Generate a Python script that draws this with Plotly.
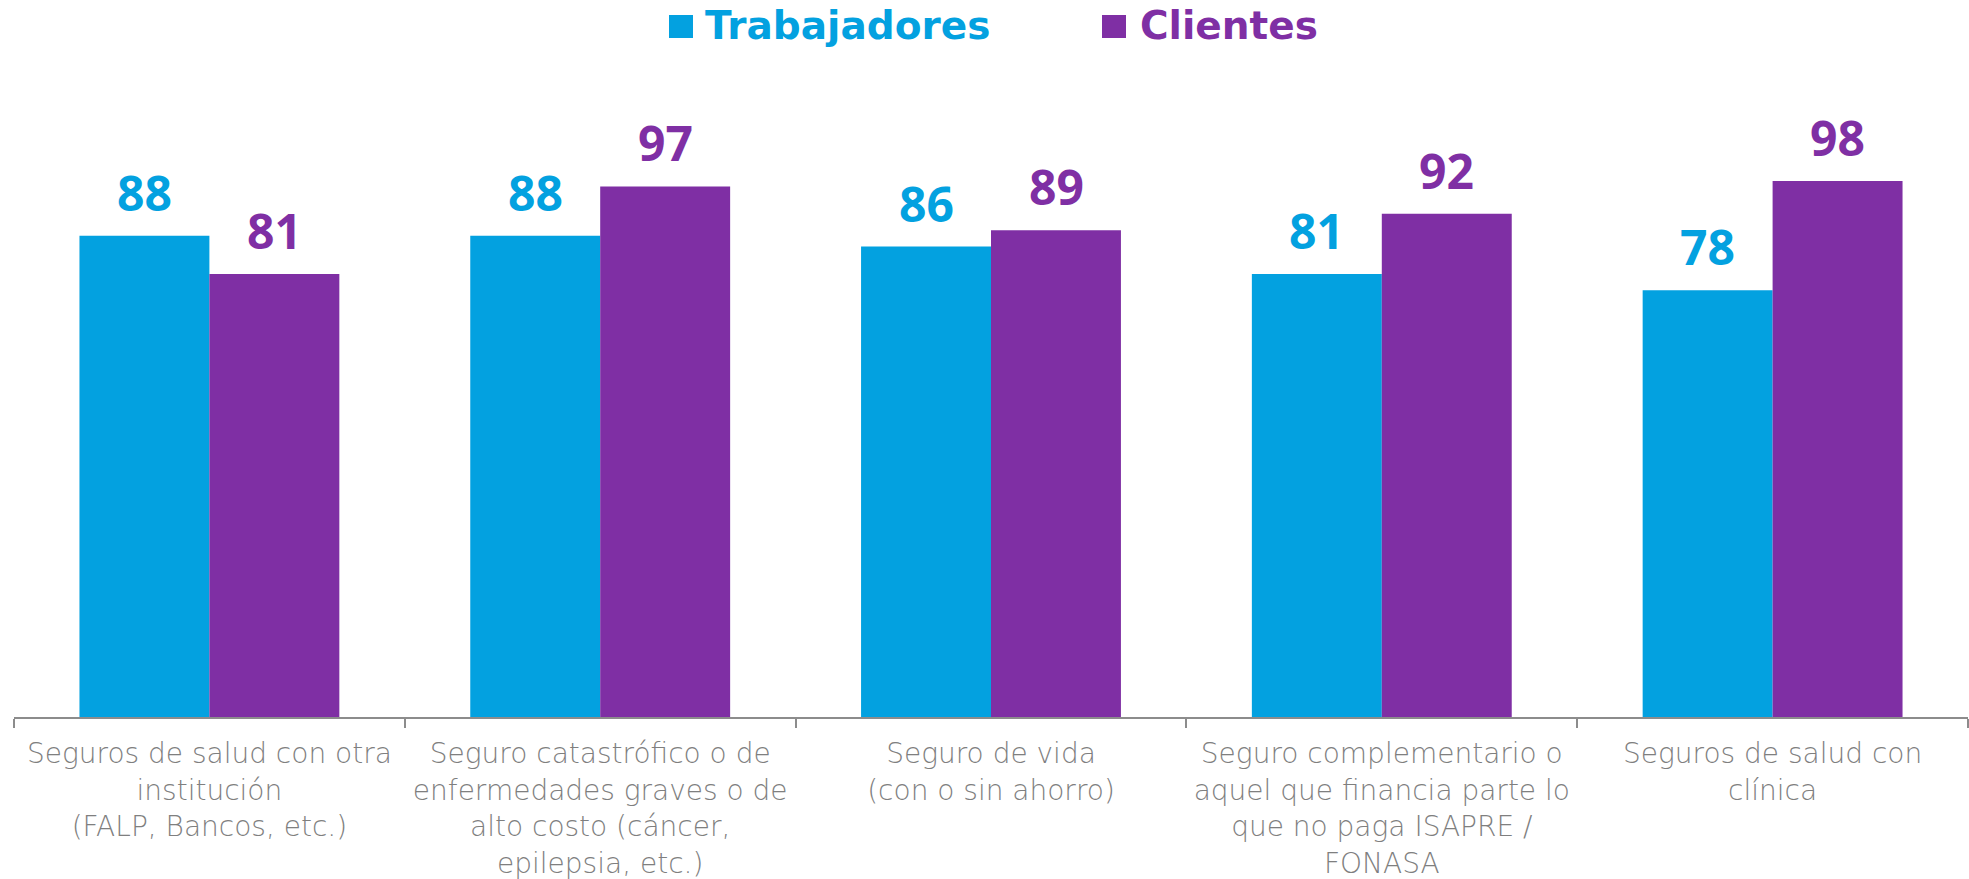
import plotly.graph_objects as go

categories = [
    "Seguros de salud con otra<br>institución<br>(FALP, Bancos, etc.)",
    "Seguro catastrófico o de<br>enfermedades graves o de<br>alto costo (cáncer,<br>epilepsia, etc.)",
    "Seguro de vida<br>(con o sin ahorro)",
    "Seguro complementario o<br>aquel que financia parte lo<br>que no paga ISAPRE /<br>FONASA",
    "Seguros de salud con<br>clínica",
]
trabajadores = [88, 88, 86, 81, 78]
clientes = [81, 97, 89, 92, 98]
series_names = ["Trabajadores", "Clientes"]
colors = ["#03A1E0", "#7F2FA4"]

FONT_BOLD = "Open Sans"
FONT_LEGEND = "DejaVu Sans"
FONT_LIGHT = "DejaVu Sans"
W, H = 1969, 879
L, R, T, B = 14, 1, 170, 162

fig = go.Figure()
for name, vals, col in zip(series_names, [trabajadores, clientes], colors):
    fig.add_trace(go.Bar(
        x=categories, y=vals, name=name,
        marker=dict(color=col, line=dict(width=0)),
        showlegend=False, hoverinfo="x+y+name",
    ))

# value labels above the bars
for k, (vals, col) in enumerate(zip([trabajadores, clientes], colors)):
    for cat, v in zip(categories, vals):
        fig.add_annotation(
            x=cat, y=v, xref="x", yref="y",
            xshift=-65 if k == 0 else 65, yshift=9,
            xanchor="center", yanchor="bottom", showarrow=False,
            text=str(v),
            font=dict(family=FONT_BOLD, size=48, color=col, weight="bold"),
        )

fig.update_layout(
    width=W, height=H,
    margin=dict(l=L, r=R, t=T, b=B, autoexpand=False),
    barmode="group", bargap=0.335, bargroupgap=0,
    plot_bgcolor="white", paper_bgcolor="white",
    showlegend=False,
)
fig.update_xaxes(
    showline=True, linecolor="#8C8C8C", linewidth=1.5,
    ticks="outside", ticklen=9, tickcolor="#8C8C8C", tickwidth=1.5,
    tickson="boundaries", ticklabelstandoff=11, tickangle=0,
    tickfont=dict(family=FONT_LIGHT, size=28, color="#7F7F7F", weight=200),
    showgrid=False, automargin=False,
)
fig.update_yaxes(range=[0, 100], visible=False, showgrid=False)

# legend built with shapes + annotations (pixel positions converted to paper coords)
pw, ph = W - L - R, H - T - B
def px(x):
    return (x - L) / pw
def py(y):
    return (H - B - y) / ph

legend_items = [(669, 693, 704), (1102, 1126, 1139)]
for (x0, x1, tx), name, col in zip(legend_items, series_names, colors):
    fig.add_shape(type="rect", xref="paper", yref="paper",
                  x0=px(x0), x1=px(x1), y0=py(38), y1=py(15),
                  fillcolor=col, line=dict(width=0))
    fig.add_annotation(xref="paper", yref="paper", x=px(tx), y=py(2),
                       xanchor="left", yanchor="top", showarrow=False,
                       borderpad=0, text=name,
                       font=dict(family=FONT_LEGEND, size=39, color=col, weight="bold"))

fig.write_html("out.html", config={"displayModeBar": False},
               post_script="document.body.style.margin='0';")
